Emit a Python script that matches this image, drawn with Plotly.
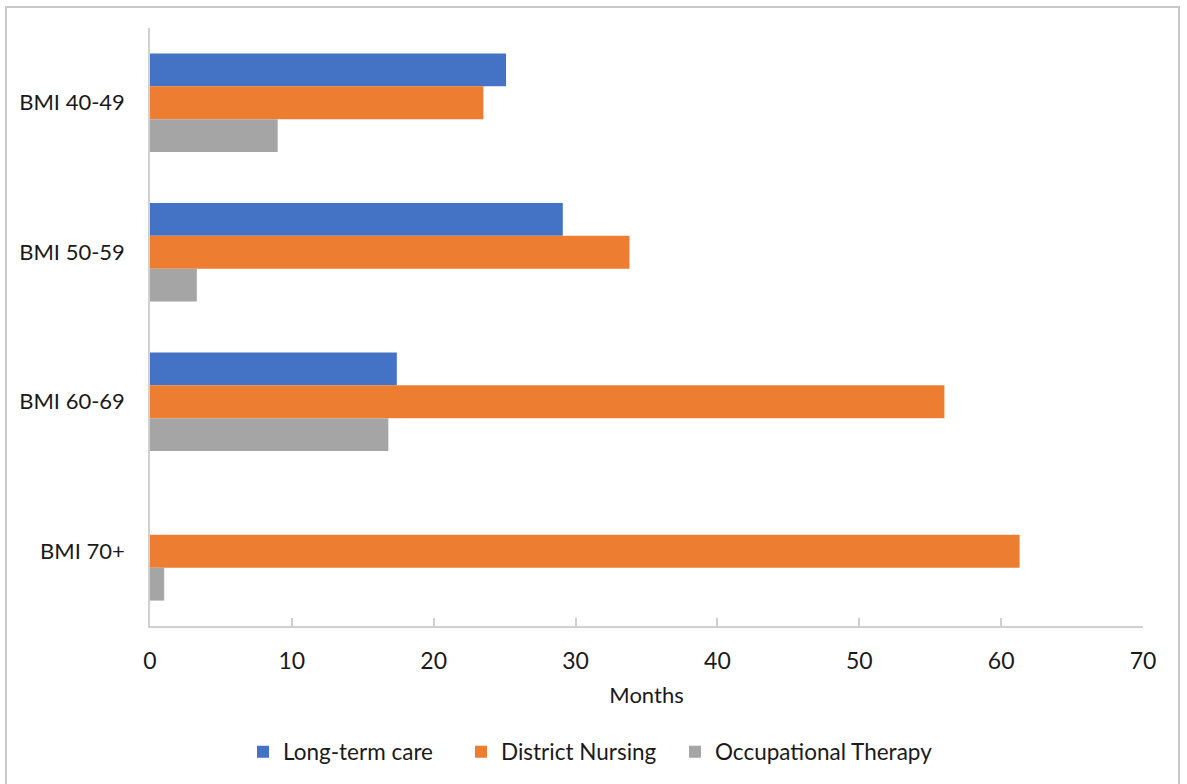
import plotly.graph_objects as go

# Categories (top to bottom) and months per service
categories = ["BMI 40-49", "BMI 50-59", "BMI 60-69", "BMI 70+"]
long_term_care = [25.1, 29.1, 17.4, 0]
district_nursing = [23.5, 33.8, 56.0, 61.3]
occupational_therapy = [9.0, 3.3, 16.8, 1.0]

series = [
    ("Long-term care", long_term_care, "#4472C4", "legend"),
    ("District Nursing", district_nursing, "#ED7D31", "legend2"),
    ("Occupational Therapy", occupational_therapy, "#A5A5A5", "legend3"),
]

FONT = "Lato, 'Open Sans', sans-serif"

fig = go.Figure()
for name, vals, color, leg in series:
    fig.add_trace(go.Bar(
        y=categories, x=vals, name=name, orientation="h",
        marker=dict(color=color, line=dict(width=0)),
        legend=leg, showlegend=True,
    ))

W, H = 1187, 784
L, R, T, B = 150, 44, 28, 157
pw, ph = W - L - R, H - T - B

def px_x(p):
    return (p - L) / pw

def px_y(p):
    return (H - B - p) / ph

def legend_at(px):
    return dict(
        orientation="h", x=px_x(px), xanchor="left",
        y=px_y(752), yanchor="middle",
        font=dict(size=22.5), itemwidth=30,
        bgcolor="rgba(0,0,0,0)",
    )

fig.update_layout(
    width=W, height=H,
    margin=dict(l=L, r=R, t=T, b=B),
    paper_bgcolor="white", plot_bgcolor="white",
    showlegend=True,
    barmode="group", bargap=0.34, bargroupgap=0,
    font=dict(family=FONT, size=22, color="#1a1a1a"),
    xaxis=dict(
        range=[0, 70], dtick=10, tick0=0,
        showgrid=False, zeroline=False,
        showline=True, linecolor="#d0d0d0", linewidth=1.5,
        ticks="inside", ticklen=8, tickcolor="#d0d0d0", tickwidth=1.5,
        tickfont=dict(size=23), ticklabelstandoff=14,
        title=dict(text="Months", font=dict(size=22), standoff=14),
    ),
    yaxis=dict(
        autorange="reversed", showgrid=False, zeroline=False,
        showline=True, linecolor="#d0d0d0", linewidth=1.5,
        ticks="", ticklabelstandoff=19, tickfont=dict(size=22),
    ),
    legend=legend_at(243),
    legend2=legend_at(461),
    legend3=legend_at(675),
    shapes=[dict(
        type="rect", xref="paper", yref="paper",
        x0=px_x(6), x1=px_x(1179), y0=px_y(800), y1=px_y(7),
        line=dict(color="#c8c8c8", width=2), fillcolor="rgba(0,0,0,0)",
        layer="below",
    )],
)

fig.write_html("out.html")
